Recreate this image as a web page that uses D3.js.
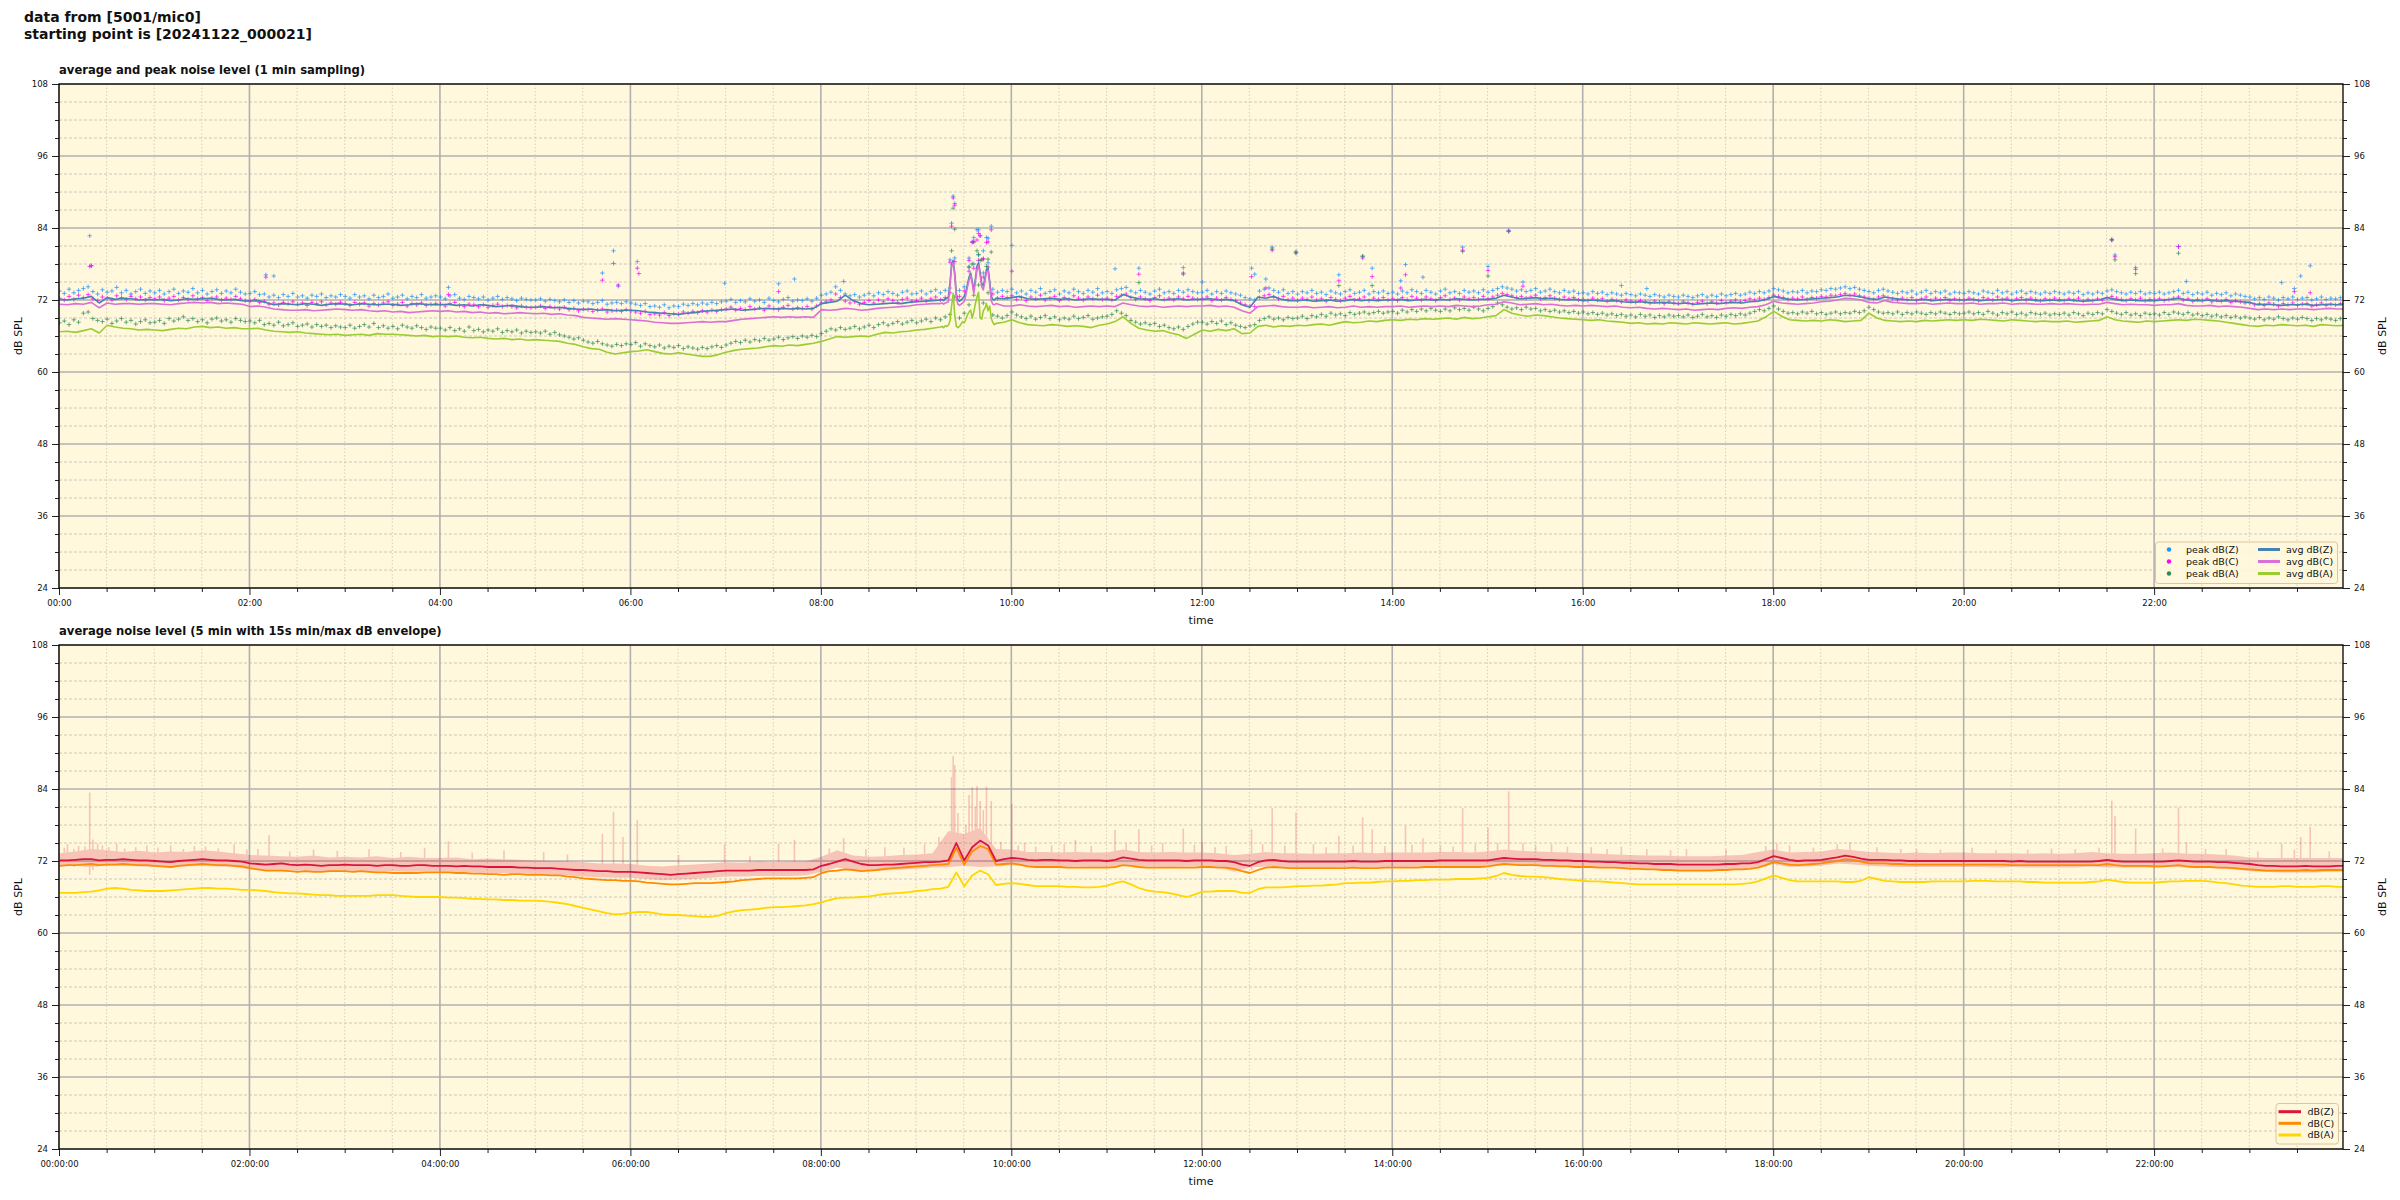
<!DOCTYPE html>
<html><head><meta charset="utf-8">
<script src="https://cdn.jsdelivr.net/npm/d3@7"></script>
<style>
body{margin:0;background:#fff}
svg{display:block}
text{font-family:"DejaVu Sans",sans-serif;fill:#111}
</style>
</head><body>
<svg id="chart" width="2400" height="1200"></svg>
<script>
// ===================== DATA =====================
const titleLines = ["data from [5001/mic0]", "starting point is [20241122_000021]"];
const topTitle = "average and peak noise level (1 min sampling)";
const bottomTitle = "average noise level (5 min with 15s min/max dB envelope)";
const yTicks = [24, 36, 48, 60, 72, 84, 96, 108];
const topLegendLabels = ["peak dB(Z)", "peak dB(C)", "peak dB(A)", "avg dB(Z)", "avg dB(C)", "avg dB(A)"];
const bottomLegendLabels = ["dB(Z)", "dB(C)", "dB(A)"];

// top panel: average levels, one value every 5 minutes from 00:00:21
const avgZ = [
72.1,72.0,72.2,72.3,72.6,71.5,72.4,72.1,72.3,72.2,72.0,72.1,
72.0,72.1,71.9,72.0,72.2,72.1,72.2,72.3,72.1,72.0,72.1,71.9,
71.8,71.9,71.6,71.2,71.4,71.3,71.2,71.4,71.3,71.1,71.3,71.4,
71.3,71.2,71.4,71.3,71.2,71.3,71.3,71.1,71.2,71.4,71.3,71.2,
71.2,71.3,71.1,71.2,71.0,71.2,71.1,70.9,71.0,71.1,70.9,70.8,
70.8,70.9,70.7,70.8,70.6,70.5,70.4,70.5,70.3,70.4,70.2,70.3,
70.3,70.2,70.0,69.9,69.8,69.7,69.6,69.8,69.9,70.1,70.2,70.3,
70.4,70.5,70.3,70.4,70.5,70.6,70.5,70.6,70.5,70.6,70.5,70.6,
71.4,71.6,71.8,72.8,71.9,71.4,71.2,71.3,71.4,71.5,71.4,71.6,
71.7,71.8,71.9,71.9,72.0,72.1,72.3,72.3,72.2,72.4,72.3,72.2,
72.4,72.6,72.2,72.1,72.2,72.3,72.1,72.2,72.0,72.1,72.2,72.1,
72.1,72.0,72.9,72.5,72.2,72.1,72.2,72.0,72.1,72.2,72.0,72.1,
72.1,72.2,72.0,72.1,71.9,71.2,70.8,72.5,72.3,72.6,72.1,71.9,
71.9,72.0,71.8,71.9,72.0,71.8,71.9,72.1,71.9,72.0,71.9,72.0,
72.0,72.1,71.9,72.0,72.1,72.0,72.1,72.0,72.2,72.1,72.0,72.1,
72.1,72.3,72.8,72.5,72.2,72.3,72.4,72.2,72.3,72.1,72.0,72.1,
71.9,72.0,71.9,71.8,71.9,71.7,71.6,71.7,71.6,71.5,71.6,71.5,
71.4,71.5,71.3,71.4,71.5,71.4,71.5,71.6,71.5,71.7,71.8,72.1,
72.6,72.3,72.1,72.0,72.1,72.2,72.3,72.4,72.5,72.8,72.7,72.5,
72.2,72.1,72.5,72.3,72.1,72.0,72.0,72.1,71.9,72.0,72.1,72.0,
72.0,72.1,71.9,72.0,72.0,72.1,71.9,72.0,72.1,71.9,71.9,72.0,
71.9,72.0,71.9,71.8,71.9,72.0,72.4,72.1,71.9,72.0,71.9,71.9,
71.9,72.0,72.1,72.3,72.0,71.9,71.9,72.0,71.8,71.9,71.8,71.7,
71.6,71.2,71.3,71.2,71.1,71.2,71.2,71.3,71.1,71.2,71.3,71.2,
71.3];
const avgC = [
71.3,71.2,71.4,71.3,71.6,70.7,71.5,71.3,71.4,71.4,71.3,71.4,
71.4,71.3,71.2,71.4,71.5,71.6,71.5,71.6,71.4,71.5,71.4,71.3,
70.9,71.0,70.8,70.5,70.4,70.3,70.3,70.4,70.2,70.3,70.4,70.5,
70.4,70.3,70.4,70.2,70.1,70.2,70.0,70.1,69.9,70.0,70.1,70.2,
70.1,70.2,70.0,70.1,69.9,70.0,69.8,69.9,69.7,69.8,69.9,69.8,
69.7,69.8,69.6,69.7,69.5,69.4,69.1,69.0,68.9,68.8,68.9,68.8,
68.7,68.6,68.5,68.3,68.2,68.1,68.1,68.2,68.3,68.4,68.3,68.4,
68.4,68.6,68.8,68.9,69.0,69.1,69.2,69.1,69.2,69.1,69.2,69.1,
70.4,70.3,70.4,70.6,70.5,70.3,70.4,70.6,70.7,70.8,70.9,71.0,
71.2,71.3,71.4,71.5,71.5,71.4,71.3,71.2,71.1,71.2,71.1,71.0,
71.0,71.2,71.0,70.9,71.0,71.1,70.9,71.0,70.8,70.9,71.0,70.9,
71.0,70.9,71.5,71.2,71.0,70.9,71.0,70.8,70.9,71.0,70.9,71.0,
71.0,71.1,70.9,71.0,70.8,70.2,69.8,70.9,71.0,71.1,70.9,70.8,
70.8,70.9,70.7,70.8,70.9,70.7,70.8,71.0,70.8,70.9,70.8,70.9,
70.9,71.0,70.8,70.9,71.0,70.9,71.0,70.9,71.1,71.0,70.9,71.0,
71.2,71.3,71.7,71.5,71.2,71.3,71.4,71.2,71.3,71.1,71.0,71.1,
71.0,71.1,71.0,70.9,71.0,70.8,70.7,70.8,70.6,70.5,70.6,70.5,
70.4,70.5,70.3,70.4,70.5,70.4,70.6,70.7,70.6,70.8,70.9,71.2,
71.8,71.5,71.4,71.3,71.4,71.5,71.7,71.8,72.0,72.3,72.2,72.0,
71.6,71.5,71.9,71.6,71.5,71.4,71.4,71.5,71.3,71.4,71.5,71.4,
71.4,71.5,71.3,71.4,71.4,71.5,71.3,71.4,71.4,71.3,71.3,71.4,
71.3,71.4,71.3,71.2,71.3,71.3,71.6,71.4,71.2,71.3,71.2,71.2,
71.1,71.2,71.2,71.4,71.1,71.0,71.0,71.1,70.9,71.0,70.9,70.8,
70.6,70.4,70.5,70.4,70.5,70.4,70.5,70.5,70.4,70.5,70.6,70.5,
70.5];
const avgA = [
66.7,66.8,66.6,66.9,67.2,66.5,67.8,67.5,67.3,67.2,67.0,67.1,
67.0,66.9,67.1,67.3,67.2,67.5,67.6,67.4,67.5,67.3,67.4,67.2,
67.2,67.3,67.0,66.8,66.7,66.6,66.7,66.5,66.4,66.3,66.2,66.3,
66.1,66.2,66.3,66.1,66.4,66.3,66.3,66.2,66.1,66.0,66.1,65.9,
66.0,65.9,66.0,65.8,65.7,65.8,65.6,65.5,65.6,65.4,65.5,65.3,
65.4,65.3,65.2,65.1,64.8,64.6,64.2,63.9,63.8,63.3,63.0,63.2,
63.4,63.5,63.7,63.4,63.1,63.0,63.2,63.0,62.8,62.6,62.6,62.9,
63.3,63.6,63.8,63.9,64.0,64.2,64.4,64.3,64.5,64.4,64.6,64.8,
65.1,65.5,65.9,65.8,65.9,66.0,65.9,66.3,66.6,66.5,66.7,66.8,
67.0,67.1,67.3,67.4,67.5,67.0,68.0,68.5,67.6,67.4,68.1,68.3,
68.7,68.2,67.9,67.8,67.7,67.9,67.8,67.6,67.7,67.6,67.4,67.8,
68.0,68.4,69.2,68.1,67.3,67.0,66.8,66.9,66.5,66.2,65.6,66.3,
67.0,66.8,67.1,66.9,67.2,66.4,66.5,67.6,67.8,67.5,67.7,67.6,
67.8,67.7,67.9,68.0,67.8,68.1,68.4,68.2,68.3,68.5,68.4,68.6,
68.7,68.6,68.8,68.7,68.9,68.8,68.9,69.0,68.8,69.1,68.9,69.0,
69.2,69.4,70.4,69.8,69.5,69.3,69.5,69.4,69.2,69.0,68.9,68.8,
68.7,68.6,68.7,68.5,68.4,68.3,68.1,68.2,68.0,68.1,68.0,68.2,
68.1,68.0,68.2,68.1,68.0,68.1,68.2,68.0,68.1,68.3,68.5,69.2,
70.1,69.3,68.7,68.6,68.5,68.6,68.5,68.7,68.6,68.4,68.5,68.6,
69.8,69.0,68.6,68.5,68.4,68.5,68.4,68.6,68.5,68.6,68.7,68.6,
68.7,68.6,68.8,68.7,68.6,68.5,68.7,68.6,68.5,68.4,68.5,68.4,
68.4,68.5,68.3,68.4,68.5,68.6,69.2,68.7,68.5,68.4,68.3,68.5,
68.4,68.5,68.6,68.7,68.6,68.8,68.7,68.6,68.5,68.3,68.1,67.9,
67.7,67.6,67.8,67.7,67.9,67.8,67.7,67.8,67.6,67.9,67.8,67.7,
67.8];

// top panel: 1-minute detail of the averages between 09:15 and 09:50
const detailStart = "09:15";
const avgZDetail = [72.0,72.1,71.9,72.2,72.3,72.5,74.8,77.9,78.6,76.5,73.0,72.0,71.8,72.0,72.3,72.6,73.4,74.6,75.8,76.5,75.2,73.6,75.5,77.6,78.2,76.6,74.8,74.3,75.6,77.1,77.3,75.2,72.6,72.1,72.0,72.3];
const avgCDetail = [71.4,71.5,71.3,71.5,71.6,71.7,74.2,77.5,78.2,76.0,72.4,71.3,71.1,71.3,71.5,71.8,72.8,74.1,75.3,76.1,74.8,73.1,75.0,77.1,77.8,76.1,74.2,73.7,75.1,76.7,76.9,74.7,71.9,71.3,71.2,71.4];
const avgADetail = [67.5,67.6,67.4,67.7,67.6,67.8,68.5,71.0,73.1,69.5,67.6,67.4,67.6,68.0,68.4,68.2,68.8,69.5,70.0,70.3,69.0,70.0,71.4,72.5,73.3,69.0,68.8,70.2,70.6,71.4,70.2,71.0,69.0,68.2,67.9,68.1];

// top panel: peak levels, one value every 3 minutes from 00:00:21
const peakZ = [
73.5,73.1,73.8,73.2,73.6,73.9,74.2,73.4,73.0,73.7,73.3,73.5,74.1,73.2,73.6,73.0,73.4,73.8,73.1,73.5,
73.2,73.6,73.0,73.4,73.8,73.1,73.5,73.3,73.9,73.2,73.6,73.0,73.4,73.7,73.1,73.5,73.2,73.8,73.3,73.0,
73.1,73.4,72.9,73.0,72.5,72.8,72.4,72.9,72.6,73.1,72.5,72.7,72.3,72.8,72.6,73.0,72.4,72.7,72.5,72.9,
72.6,72.3,72.9,72.5,72.7,72.2,72.8,72.4,72.6,73.0,72.3,72.5,72.8,72.2,72.6,72.4,72.9,72.3,72.5,72.7,
72.5,72.2,72.7,72.9,72.3,72.1,72.6,72.4,72.2,72.5,72.0,72.3,72.6,72.1,72.4,72.2,71.9,72.3,72.1,72.0,
72.0,72.2,71.8,72.1,71.9,71.7,72.0,71.6,71.9,71.5,71.8,71.7,71.4,71.6,71.9,71.3,71.5,71.6,71.4,71.7,
71.5,71.3,71.1,71.4,70.9,71.0,70.8,71.2,70.7,71.0,70.9,71.3,71.1,71.4,71.2,71.5,71.3,71.6,71.4,71.7,
71.8,72.1,71.6,71.9,71.7,72.2,71.8,72.0,71.6,72.3,71.9,71.7,72.1,72.4,71.8,72.0,71.9,72.2,71.8,72.3,
72.8,73.0,73.3,74.2,73.6,73.0,72.7,72.9,72.5,72.8,73.1,72.7,73.2,72.9,73.4,73.1,72.8,73.3,73.5,73.0,
73.1,73.5,73.0,73.4,73.7,73.2,73.6,74.0,79.0,73.6,74.2,77.5,78.0,79.5,76.5,78.2,73.8,73.3,73.6,73.4,
73.8,73.2,73.5,73.0,73.6,73.3,73.9,73.1,73.4,73.7,73.0,73.5,73.2,73.8,73.4,73.1,73.6,73.3,73.9,73.2,
73.4,73.1,73.7,73.9,74.1,73.5,73.2,73.6,73.3,73.0,73.5,73.8,73.2,73.4,73.1,73.6,73.3,73.7,73.4,73.2,
73.3,73.6,73.0,73.4,73.1,73.5,73.2,73.0,72.8,72.4,72.2,72.0,73.5,73.8,74.0,73.6,73.3,73.7,73.1,73.4,
73.0,73.4,73.2,73.6,73.1,73.3,72.9,73.5,73.2,73.0,73.4,73.7,73.1,73.3,73.6,73.0,73.4,73.2,73.5,73.1,
73.3,73.0,73.5,73.2,73.7,73.4,73.1,73.6,73.3,73.0,73.5,73.8,73.2,73.4,73.1,73.6,73.3,73.5,73.2,73.7,
73.3,73.6,73.9,74.2,74.0,73.8,73.5,73.7,73.4,73.6,73.9,73.3,73.5,73.8,73.4,73.2,73.6,73.3,73.5,73.1,
73.2,73.0,73.4,73.1,73.3,72.9,73.2,73.0,72.8,73.1,72.9,72.7,73.0,72.8,72.6,72.9,72.7,72.5,72.8,72.6,
72.5,72.8,72.6,72.4,72.7,72.9,72.5,72.8,72.6,73.0,72.7,72.9,73.1,72.8,73.0,73.3,73.1,73.4,73.2,73.5,
73.9,73.7,73.5,73.2,73.4,73.3,73.6,73.2,73.5,73.4,73.7,73.6,73.9,73.8,74.0,74.2,73.9,74.1,73.8,73.6,
73.4,73.2,73.6,73.8,73.5,73.3,73.1,73.4,73.2,73.5,73.0,73.3,73.6,73.1,73.4,73.2,73.5,73.0,73.3,73.2,
73.1,73.4,73.2,73.0,73.5,73.3,73.1,73.6,73.2,73.4,73.0,73.3,73.5,73.1,73.4,73.2,73.0,73.3,73.1,73.4,
73.2,73.0,73.3,73.1,73.4,72.9,73.2,73.0,73.3,73.1,73.5,73.7,73.4,73.2,73.0,73.3,73.1,73.4,73.0,73.2,
73.1,73.3,73.0,73.2,73.4,73.6,73.1,73.3,72.9,73.2,73.0,73.3,72.8,73.1,72.9,73.2,72.7,73.0,72.8,72.6,
72.5,72.2,72.4,72.1,72.5,72.3,72.0,72.4,72.2,72.5,72.1,72.3,72.4,72.0,72.2,72.5,72.1,72.3,72.2,72.4];
const peakC = [
72.3,72.0,72.6,72.1,72.8,72.4,72.9,72.2,71.9,72.5,72.3,72.0,72.7,72.4,72.1,72.6,72.2,72.5,72.0,72.4,
72.2,72.5,71.9,72.3,72.6,72.0,72.4,72.1,72.7,72.2,72.4,71.9,72.3,72.5,72.0,72.3,72.1,72.6,72.2,71.9,
71.9,72.1,71.6,71.8,71.3,71.5,71.2,71.6,71.4,71.7,71.3,71.5,71.1,71.6,71.4,71.7,71.2,71.5,71.3,71.6,
71.4,71.1,71.6,71.3,71.5,71.0,71.4,71.2,71.5,71.7,71.1,71.3,71.6,71.0,71.4,71.2,71.5,71.1,71.3,71.4,
71.3,71.0,71.4,71.6,71.1,70.9,71.3,71.2,70.9,71.2,70.8,71.1,71.3,70.9,71.1,70.9,70.7,71.0,70.8,70.7,
70.8,71.0,70.6,70.9,70.7,70.5,70.8,70.4,70.6,70.2,70.5,70.4,70.1,70.3,70.5,70.0,70.2,70.3,70.1,70.4,
70.2,70.0,69.8,70.1,69.6,69.7,69.5,69.9,69.4,69.7,69.6,70.0,69.8,70.1,69.9,70.2,70.0,70.3,70.1,70.4,
70.5,70.8,70.3,70.6,70.4,70.9,70.5,70.7,70.3,71.0,70.6,70.4,70.8,71.1,70.5,70.7,70.6,70.9,70.5,71.0,
71.5,71.7,72.0,73.0,72.4,71.8,71.5,71.7,71.3,71.6,71.9,71.5,72.0,71.7,72.2,71.9,71.6,72.1,72.3,71.8,
71.9,72.3,71.8,72.2,72.5,72.0,72.4,73.2,78.4,72.6,73.5,76.8,77.3,78.6,75.8,77.5,73.0,72.3,72.6,72.4,
72.7,72.1,72.4,71.9,72.5,72.2,72.8,72.0,72.3,72.6,71.9,72.4,72.1,72.7,72.3,72.0,72.5,72.2,72.8,72.1,
72.3,72.0,72.6,72.8,73.0,72.4,72.1,72.5,72.2,71.9,72.4,72.7,72.1,72.3,72.0,72.5,72.2,72.6,72.3,72.1,
72.2,72.5,71.9,72.3,72.0,72.4,72.1,71.9,71.5,71.2,71.0,70.9,72.4,72.7,72.9,72.5,72.2,72.6,72.0,72.3,
71.9,72.3,72.1,72.5,72.0,72.2,71.8,72.4,72.1,71.9,72.3,72.6,72.0,72.2,72.5,71.9,72.3,72.1,72.4,72.0,
72.2,71.9,72.4,72.1,72.6,72.3,72.0,72.5,72.2,71.9,72.4,72.7,72.1,72.3,72.0,72.5,72.2,72.4,72.1,72.6,
72.2,72.5,72.8,73.1,72.9,72.7,72.4,72.6,72.3,72.5,72.8,72.2,72.4,72.7,72.3,72.1,72.5,72.2,72.4,72.0,
72.1,71.9,72.3,72.0,72.2,71.8,72.1,71.9,71.7,72.0,71.8,71.6,71.9,71.7,71.5,71.8,71.6,71.4,71.7,71.5,
71.4,71.7,71.5,71.3,71.6,71.8,71.4,71.7,71.5,71.9,71.6,71.8,72.0,71.7,71.9,72.2,72.0,72.3,72.1,72.4,
72.8,72.6,72.4,72.1,72.3,72.2,72.5,72.1,72.4,72.3,72.6,72.5,72.8,72.7,72.9,73.1,72.8,73.0,72.7,72.5,
72.3,72.1,72.5,72.7,72.4,72.2,72.0,72.3,72.1,72.4,71.9,72.2,72.5,72.0,72.3,72.1,72.4,71.9,72.2,72.1,
72.0,72.3,72.1,71.9,72.4,72.2,72.0,72.5,72.1,72.3,71.9,72.2,72.4,72.0,72.3,72.1,71.9,72.2,72.0,72.3,
72.1,71.9,72.2,72.0,72.3,71.8,72.1,71.9,72.2,72.0,72.4,72.6,72.3,72.1,71.9,72.2,72.0,72.3,71.9,72.1,
72.0,72.2,71.9,72.1,72.3,72.5,72.0,72.2,71.8,72.1,71.9,72.2,71.7,72.0,71.8,72.1,71.6,71.9,71.7,71.5,
71.5,71.2,71.4,71.1,71.5,71.3,71.0,71.4,71.2,71.5,71.1,71.3,71.4,71.0,71.2,71.5,71.1,71.3,71.2,71.4];
const peakA = [
68.2,68.5,67.9,68.7,68.3,69.8,70.0,68.9,68.6,68.4,68.8,68.1,68.5,68.9,68.3,68.6,68.0,68.4,68.7,68.2,
68.3,68.6,68.1,68.9,68.5,68.8,69.2,68.6,68.9,68.4,68.7,68.2,68.8,69.0,68.5,68.7,68.3,68.9,68.6,68.4,
68.5,68.2,68.6,67.9,68.1,67.8,68.3,67.7,67.9,68.2,67.6,67.8,68.0,67.5,67.9,67.6,67.8,67.4,67.7,67.5,
67.4,67.8,67.3,67.6,67.9,67.5,68.1,67.4,67.7,67.3,67.6,67.2,67.8,67.5,67.3,67.7,67.4,67.1,67.5,67.3,
67.3,67.0,67.4,66.9,67.2,66.8,67.5,66.9,67.1,66.7,67.0,66.8,67.2,66.6,66.9,66.7,67.0,66.5,66.8,66.6,
66.7,66.5,66.8,66.3,66.6,66.2,66.0,65.8,65.5,65.7,65.3,65.0,64.8,65.1,64.7,64.5,64.3,64.6,64.4,64.7,
64.6,64.9,64.3,64.7,64.4,64.2,64.5,64.0,64.3,64.1,64.4,63.9,64.2,64.0,63.8,64.1,63.9,64.2,64.4,64.1,
64.5,64.8,65.1,64.9,65.3,65.0,65.4,65.2,65.6,65.3,65.5,65.8,65.4,65.7,65.9,65.6,66.0,65.8,66.1,65.9,
66.4,66.8,67.2,67.0,67.4,67.1,67.3,67.6,67.2,67.5,67.8,67.4,67.9,68.2,67.8,68.1,68.4,68.0,68.3,68.6,
68.2,68.5,68.8,68.4,69.0,68.7,69.2,69.6,72.5,69.0,69.8,71.2,72.8,74.5,71.5,73.2,69.5,69.3,69.0,69.4,
70.0,69.5,69.2,68.9,69.3,68.8,69.1,69.4,68.9,69.2,68.7,69.0,68.8,69.3,68.9,69.1,69.4,68.8,69.0,69.2,
69.3,69.6,70.2,69.8,69.4,68.6,68.3,68.0,68.2,67.9,68.1,67.6,67.8,67.4,67.2,67.5,67.1,67.6,68.0,68.3,
68.3,68.0,68.4,68.1,68.5,67.9,68.2,67.8,67.6,67.4,67.7,67.9,68.6,68.9,69.2,68.8,69.0,68.7,69.1,68.9,
69.0,69.3,68.9,69.4,69.2,69.6,69.3,69.8,69.5,69.7,69.4,69.9,69.6,69.8,70.0,69.7,69.9,70.1,69.8,70.0,
70.1,69.8,70.3,70.0,70.4,70.1,70.5,70.2,70.6,70.3,70.1,70.5,70.2,70.7,70.4,70.6,70.3,70.8,70.5,70.2,
70.6,70.9,71.5,71.2,70.8,70.5,70.7,70.4,70.8,70.5,70.6,70.2,70.4,70.1,70.3,70.0,70.2,69.9,70.1,69.8,
70.0,69.7,69.9,69.6,69.8,69.5,69.7,69.4,69.6,69.3,69.5,69.2,69.6,69.3,69.5,69.1,69.4,69.2,69.5,69.3,
69.4,69.2,69.5,69.1,69.3,69.6,69.2,69.4,69.1,69.5,69.3,69.6,69.4,69.7,69.5,69.8,70.1,70.4,70.2,70.6,
71.0,70.5,70.1,69.8,69.9,69.7,70.0,69.8,70.1,69.7,69.9,69.6,69.8,70.0,69.7,69.9,69.8,70.1,69.9,70.2,
70.8,70.4,70.0,69.8,69.9,69.7,70.0,69.6,69.9,69.7,70.0,69.8,69.6,69.9,69.7,70.0,69.8,69.6,69.9,69.7,
69.8,70.0,69.7,69.9,69.6,70.1,69.8,69.5,69.9,69.7,70.0,69.6,69.8,69.5,69.9,69.7,69.6,69.8,69.5,69.7,
69.6,69.8,69.5,69.9,69.7,69.4,69.8,69.6,69.9,69.7,70.4,70.1,69.8,69.6,69.9,69.5,69.7,69.4,69.8,69.6,
69.7,69.5,69.9,69.6,70.0,69.8,69.6,69.9,69.5,69.7,69.4,69.6,69.3,69.5,69.2,69.4,69.1,69.3,69.0,69.2,
69.0,68.8,69.1,68.7,69.0,68.8,69.2,68.9,68.7,69.0,68.8,69.1,68.9,68.6,68.9,68.7,69.0,68.8,68.6,68.9];

// isolated peak readings [time, dB]
const peakZOutliers = [["00:19",82.7],["00:20",77.7],["02:10",76.2],["02:15",76.0],["04:05",74.1],["05:42",76.5],["05:49",80.2],["05:52",74.3],["06:04",78.4],["06:59",74.8],["07:33",74.7],["07:43",75.5],["08:14",75.1],
["09:21",78.7],["09:22",84.8],["09:23",89.3],["09:24",88.1],["09:33",79.0],["09:35",81.7],["09:36",82.4],["09:38",83.7],["09:39",83.7],["09:40",82.7],["09:42",80.2],["09:44",82.4],["09:45",82.3],["09:47",84.3],["10:00",81.1],
["11:05",77.2],["11:20",77.3],["11:48",77.4],["12:00",75.0],["12:31",77.3],["12:33",76.3],["12:40",75.5],["12:44",80.8],["12:59",80.1],["13:26",76.2],["13:41",79.3],["13:47",77.3],["14:05",75.2],["14:08",77.9],["14:19",75.8],
["14:44",80.8],["15:00",77.6],["15:13",83.6],["15:22",75.0],["16:24",74.4],["16:40",73.9],["21:33",82.1],["21:35",79.5],["21:48",77.4],["22:15",80.9],["22:20",75.1],["23:20",74.9],["23:28",73.9],["23:32",76.0],["23:38",77.7]];
const peakCOutliers = [["00:19",77.6],["00:20",77.7],["02:10",75.8],["04:05",72.9],["05:42",75.3],["05:49",78.1],["05:52",74.5],["06:04",77.3],["06:05",76.4],["07:33",73.4],
["09:21",78.3],["09:22",84.3],["09:23",89.0],["09:24",87.8],["09:33",78.6],["09:35",81.6],["09:36",81.7],["09:38",82.0],["09:39",83.1],["09:40",82.7],["09:41",78.7],["09:42",78.9],["09:44",81.6],["09:45",81.7],["09:47",83.7],["10:00",76.8],
["11:20",76.3],["11:48",76.5],["12:31",75.9],["12:40",74.0],["12:44",80.3],["12:59",79.8],["13:26",75.2],["13:41",79.0],["13:47",75.9],["14:05",74.0],["14:08",76.2],["14:44",80.3],["15:00",76.9],["15:13",83.5],["15:22",74.3],
["21:33",82.0],["21:35",79.2],["21:48",77.1],["22:15",80.9],["23:28",73.4],["23:38",73.2]];
const peakAOutliers = [["09:22",80.2],["09:23",87.3],["09:24",83.8],["09:33",77.5],["09:35",78.0],["09:36",81.7],["09:38",80.2],["09:39",79.6],["09:40",78.6],["09:42",78.8],["09:44",77.6],["09:45",78.8],["09:47",80.0],
["11:20",74.9],["11:48",76.3],["12:44",80.5],["12:59",79.9],["13:26",74.4],["13:41",79.3],["13:47",74.4],["14:44",80.1],["15:00",76.0],["15:13",83.4],["21:33",82.0],["21:35",78.7],["21:48",76.4],["22:15",79.8]];

// bottom panel: 5-minute averages from 00:00:21
const avg5Z = [
72.1,72.1,72.2,72.3,72.3,72.1,72.2,72.2,72.3,72.2,72.1,72.1,
72.0,71.9,71.8,72.0,72.1,72.2,72.3,72.2,72.1,72.1,72.0,71.9,
71.6,71.5,71.4,71.5,71.6,71.4,71.3,71.4,71.3,71.2,71.3,71.3,
71.4,71.3,71.3,71.3,71.2,71.3,71.3,71.2,71.2,71.3,71.3,71.2,
71.2,71.2,71.1,71.2,71.1,71.1,71.0,71.0,71.0,71.0,70.9,70.9,
70.8,70.8,70.8,70.7,70.6,70.5,70.5,70.4,70.3,70.3,70.2,70.2,
70.2,70.1,70.0,69.9,69.8,69.7,69.8,69.9,70.0,70.1,70.2,70.3,
70.4,70.4,70.4,70.4,70.5,70.5,70.5,70.5,70.5,70.5,70.5,70.6,
71.2,71.5,71.9,72.3,71.9,71.5,71.3,71.3,71.4,71.4,71.5,71.6,
71.7,71.8,71.8,71.9,72.1,75.0,72.1,74.3,75.4,74.6,72.0,72.3,
72.5,72.4,72.2,72.1,72.2,72.2,72.1,72.1,72.0,72.1,72.1,72.1,
72.0,72.2,72.6,72.4,72.2,72.1,72.1,72.1,72.1,72.1,72.0,72.1,
72.1,72.1,72.0,72.0,71.8,71.4,71.2,71.8,72.1,72.2,72.0,71.9,
71.9,71.9,71.9,71.9,71.9,71.9,71.9,72.0,71.9,71.9,71.9,72.0,
72.0,72.0,72.0,72.0,72.0,72.0,72.1,72.1,72.1,72.1,72.1,72.1,
72.1,72.3,72.5,72.4,72.3,72.3,72.3,72.2,72.2,72.1,72.1,72.0,
72.0,71.9,71.9,71.8,71.8,71.7,71.7,71.6,71.6,71.5,71.5,71.5,
71.4,71.4,71.4,71.4,71.4,71.4,71.5,71.5,71.6,71.6,71.8,72.3,
72.8,72.5,72.2,72.0,72.1,72.1,72.2,72.4,72.6,72.9,72.7,72.4,
72.2,72.2,72.2,72.1,72.1,72.0,72.0,72.0,72.0,72.0,72.0,72.0,
72.0,72.0,72.0,72.0,72.0,72.0,71.9,72.0,71.9,71.9,71.9,71.9,
71.9,71.9,71.9,71.9,71.9,72.0,72.2,72.0,71.9,71.9,71.9,71.9,
71.9,71.9,72.0,72.1,72.0,71.9,71.9,71.9,71.8,71.8,71.7,71.6,
71.5,71.3,71.2,71.2,71.1,71.1,71.1,71.2,71.1,71.1,71.1,71.2,
71.2];
const avg5C = [
71.2,71.3,71.3,71.4,71.5,71.3,71.4,71.4,71.5,71.4,71.3,71.3,
71.2,71.1,71.0,71.2,71.3,71.4,71.5,71.4,71.3,71.3,71.2,71.1,
70.8,70.6,70.4,70.4,70.4,70.3,70.2,70.3,70.2,70.2,70.3,70.3,
70.3,70.2,70.3,70.2,70.1,70.1,70.0,70.0,70.0,70.0,70.1,70.1,
70.1,70.1,70.0,70.0,69.9,69.9,69.8,69.8,69.7,69.8,69.8,69.7,
69.7,69.7,69.6,69.6,69.4,69.3,69.1,69.0,68.9,68.8,68.8,68.7,
68.7,68.6,68.4,68.3,68.2,68.1,68.1,68.2,68.3,68.3,68.3,68.4,
68.5,68.6,68.8,68.9,69.0,69.1,69.1,69.1,69.1,69.1,69.2,69.3,
70.0,70.3,70.4,70.6,70.5,70.3,70.4,70.5,70.7,70.8,70.9,71.0,
71.1,71.2,71.3,71.4,71.5,74.2,71.4,73.6,74.5,74.0,71.4,71.5,
71.6,71.4,71.1,71.0,71.0,71.0,71.0,70.9,70.9,70.9,70.9,70.9,
70.9,71.0,71.3,71.2,71.0,70.9,70.9,70.9,70.9,70.9,70.9,70.9,
71.0,71.0,70.9,70.9,70.7,70.3,70.0,70.5,70.9,71.0,70.9,70.8,
70.8,70.8,70.8,70.8,70.8,70.8,70.8,70.9,70.8,70.8,70.8,70.9,
70.9,70.9,70.9,70.9,71.0,71.0,71.0,71.0,71.0,71.0,71.0,71.0,
71.1,71.3,71.5,71.4,71.3,71.3,71.3,71.2,71.2,71.1,71.1,71.0,
71.0,71.0,70.9,70.9,70.9,70.8,70.7,70.7,70.6,70.6,70.5,70.5,
70.4,70.4,70.4,70.4,70.4,70.5,70.5,70.6,70.6,70.7,70.9,71.3,
71.8,71.6,71.4,71.3,71.4,71.5,71.6,71.8,72.0,72.3,72.2,71.9,
71.6,71.6,71.6,71.5,71.5,71.4,71.4,71.4,71.4,71.4,71.4,71.4,
71.4,71.4,71.4,71.4,71.4,71.4,71.3,71.3,71.3,71.3,71.3,71.3,
71.3,71.3,71.3,71.3,71.3,71.3,71.5,71.3,71.2,71.2,71.2,71.2,
71.1,71.1,71.2,71.3,71.1,71.0,71.0,71.0,70.9,70.9,70.8,70.7,
70.6,70.5,70.4,70.4,70.4,70.4,70.4,70.5,70.4,70.5,70.5,70.5,
70.5];
const avg5A = [
66.7,66.7,66.7,66.8,66.9,67.1,67.4,67.5,67.4,67.2,67.1,67.0,
67.0,67.0,67.1,67.2,67.3,67.4,67.5,67.5,67.4,67.4,67.3,67.2,
67.2,67.1,67.0,66.8,66.7,66.6,66.6,66.5,66.4,66.3,66.3,66.2,
66.2,66.2,66.2,66.2,66.3,66.3,66.3,66.2,66.1,66.0,66.0,66.0,
66.0,65.9,65.9,65.8,65.7,65.7,65.6,65.6,65.5,65.5,65.4,65.4,
65.4,65.3,65.2,65.0,64.8,64.5,64.2,63.9,63.6,63.3,63.1,63.2,
63.4,63.5,63.5,63.3,63.1,63.0,63.0,62.9,62.8,62.7,62.7,62.9,
63.3,63.6,63.8,63.9,64.0,64.2,64.3,64.3,64.4,64.5,64.6,64.8,
65.1,65.5,65.8,65.9,65.9,66.0,66.1,66.3,66.5,66.6,66.7,66.8,
67.0,67.1,67.3,67.4,67.7,70.1,67.8,69.6,70.4,69.8,68.0,68.2,
68.3,68.2,68.0,67.8,67.8,67.8,67.8,67.7,67.7,67.6,67.6,67.7,
67.9,68.3,68.6,68.1,67.5,67.1,66.9,66.8,66.6,66.3,66.0,66.4,
66.9,66.9,67.0,67.0,67.0,66.7,66.7,67.3,67.6,67.6,67.6,67.7,
67.8,67.8,67.9,67.9,68.0,68.1,68.3,68.3,68.4,68.4,68.5,68.6,
68.6,68.7,68.7,68.8,68.8,68.9,68.9,68.9,69.0,69.0,69.0,69.1,
69.2,69.5,70.0,69.7,69.5,69.4,69.4,69.3,69.2,69.0,68.9,68.8,
68.7,68.6,68.6,68.5,68.4,68.3,68.2,68.1,68.1,68.1,68.1,68.1,
68.1,68.1,68.1,68.1,68.1,68.1,68.1,68.1,68.2,68.3,68.6,69.1,
69.6,69.2,68.8,68.6,68.6,68.6,68.6,68.6,68.6,68.5,68.5,68.7,
69.3,69.0,68.7,68.6,68.5,68.5,68.5,68.5,68.6,68.6,68.6,68.6,
68.6,68.7,68.7,68.7,68.6,68.6,68.6,68.6,68.5,68.5,68.4,68.4,
68.4,68.4,68.4,68.4,68.5,68.6,68.9,68.7,68.5,68.4,68.4,68.4,
68.4,68.5,68.6,68.6,68.7,68.7,68.7,68.6,68.4,68.3,68.1,67.9,
67.8,67.7,67.7,67.7,67.8,67.8,67.7,67.7,67.7,67.8,67.8,67.7,
67.7];

// bottom panel: 15 s min/max envelope of dB(Z), summarised every 10 minutes
const envMax = [
73.3,73.6,74.0,73.8,73.5,73.7, 73.4,73.6,73.5,73.8,73.6,73.3, 73.0,72.9,72.8,72.7,72.9,72.6,
72.7,72.6,72.8,72.5,72.7,72.5, 72.5,72.6,72.3,72.4,72.3,72.2, 72.1,72.0,71.9,71.8,71.6,71.6,
71.5,71.2,71.1,71.3,71.4,71.6, 71.8,71.7,71.9,71.8,71.9,71.9, 72.7,73.8,72.9,72.7,72.8,73.0,
73.1,73.3,77.0,76.5,77.5,74.0, 73.9,73.5,73.5,73.4,73.5,73.4, 73.4,73.9,73.5,73.4,73.5,73.4,
73.4,73.3,73.0,73.2,73.5,73.3, 73.3,73.2,73.3,73.3,73.4,73.3, 73.4,73.4,73.4,73.5,73.5,73.4,
73.6,73.9,73.7,73.6,73.5,73.4, 73.3,73.2,73.1,73.0,72.9,72.9, 72.8,72.8,72.8,72.9,73.0,73.5,
73.9,73.4,73.5,73.6,74.0,73.8, 73.5,73.4,73.3,73.4,73.3,73.4, 73.4,73.3,73.3,73.3,73.2,73.3,
73.2,73.3,73.5,73.3,73.2,73.2, 73.3,73.4,73.2,73.2,73.1,72.9, 72.6,72.5,72.5,72.5,72.5,72.5,
72.5];
const envMin = [
71.1,71.2,71.0,71.3,71.2,71.1, 71.0,70.9,71.1,71.2,71.1,71.0, 70.6,70.5,70.4,70.4,70.3,70.3,
70.4,70.3,70.2,70.3,70.2,70.3, 70.2,70.2,70.1,70.0,70.0,69.9, 69.8,69.7,69.6,69.4,69.3,69.2,
69.2,69.0,68.8,68.9,69.0,69.2, 69.4,69.4,69.5,69.5,69.5,69.6, 70.2,70.9,70.4,70.3,70.4,70.6,
70.7,70.9,71.0,71.2,71.0,71.1, 71.3,71.1,71.1,71.0,71.1,71.0, 71.0,71.4,71.1,71.1,71.0,71.1,
71.1,71.0,70.2,70.9,71.1,70.9, 70.9,70.9,70.9,71.0,70.9,71.0, 71.0,71.0,71.1,71.1,71.1,71.1,
71.2,71.4,71.3,71.2,71.2,71.0, 71.0,70.9,70.8,70.7,70.6,70.5, 70.4,70.4,70.4,70.5,70.6,71.0,
71.5,71.0,71.1,71.2,71.6,71.4, 71.2,71.1,71.0,71.0,71.0,71.0, 71.0,71.0,70.9,71.0,70.9,70.9,
70.9,70.9,71.1,70.9,70.9,70.9, 70.9,71.0,70.9,70.9,70.8,70.6, 70.3,70.2,70.1,70.1,70.1,70.2,
70.2];
// short 15 s excursions of the envelope [time, min dB, max dB]
const envSpikes = [
["00:03",71.5,74.2],["00:05",72.0,74.8],["00:09",71.0,74.0],["00:12",72.0,74.5],["00:16",71.0,74.4],["00:19",69.7,83.4],["00:21",70.5,75.6],["00:24",71.0,74.9],["00:27",72.0,74.6],
["00:31",71.2,74.3],["00:36",72.0,74.9],["00:41",71.4,74.1],["00:48",72.0,74.3],["00:55",71.3,74.6],["01:02",71.3,74.2],["01:10",72.0,74.6],["01:18",71.2,74.0],["01:25",71.4,74.5],
["01:32",72.0,74.4],["01:40",71.3,74.1],["01:50",72.0,74.8],["01:58",71.0,73.9],["02:05",70.8,74.0],["02:12",71.5,76.3],["02:25",70.6,73.6],["02:40",71.5,73.9],["02:55",70.5,73.7],
["03:15",71.5,74.0],["03:35",70.5,73.5],["03:50",71.0,74.2],["04:05",71.0,75.3],["04:20",70.4,73.4],["04:40",71.0,73.8],["05:05",70.5,73.5],["05:20",70.0,73.1],["05:42",70.5,76.5],
["05:49",70.5,80.2],["05:55",70.0,76.0],["06:04",70.0,78.8],["06:30",70.0,73.0],["06:59",70.0,74.8],["07:15",69.6,72.8],["07:33",70.0,74.9],["07:43",70.0,75.5],["08:05",71.0,74.1],
["08:14",71.5,75.8],["08:28",71.0,74.0],["08:40",71.5,74.3],["08:52",71.0,74.2],["09:05",72.0,74.8],["09:14",72.0,76.0],["09:22",72.0,86.0],["09:23",72.0,89.5],["09:24",72.0,88.0],
["09:26",72.0,80.0],["09:31",72.0,78.0],["09:33",72.0,83.0],["09:35",72.0,84.3],["09:37",72.0,81.0],["09:38",72.0,84.5],["09:40",72.0,82.0],["09:42",72.0,80.5],["09:44",72.0,84.4],
["09:47",72.0,82.0],["09:53",71.5,75.2],["10:00",71.5,81.5],["10:04",71.5,74.6],["10:08",71.5,75.0],["10:15",71.5,74.4],["10:25",71.5,74.6],["10:33",71.5,74.8],["10:40",71.5,75.5],
["10:50",71.5,74.5],["11:05",71.5,77.2],["11:12",71.5,74.9],["11:20",71.5,77.3],["11:28",71.5,74.6],["11:35",71.5,75.0],["11:48",71.5,77.4],["11:55",71.5,74.7],["12:00",71.5,75.2],
["12:08",71.5,74.3],["12:15",71.5,74.5],["12:31",70.5,77.3],["12:38",71.0,74.8],["12:44",71.5,80.8],["12:52",71.5,74.6],["12:59",71.5,80.1],["13:10",71.5,74.8],["13:18",71.5,74.3],
["13:26",71.5,76.2],["13:35",71.5,74.6],["13:41",71.5,79.3],["13:47",71.5,77.3],["13:55",71.5,74.5],["14:08",71.5,77.9],["14:12",71.5,74.7],["14:19",71.5,75.8],["14:30",71.5,74.6],
["14:38",71.5,74.4],["14:44",71.5,80.8],["14:52",71.5,74.8],["15:00",71.5,77.6],["15:06",71.5,75.0],["15:13",71.5,83.6],["15:22",71.5,75.0],["15:30",71.5,74.6],["15:40",71.5,74.8],
["15:50",71.5,74.4],["16:05",71.5,74.3],["16:15",71.2,74.0],["16:24",71.5,74.4],["16:40",71.0,74.0],["16:55",71.0,73.8],["17:05",71.0,74.0],["17:30",71.0,73.9],["17:55",71.0,74.5],
["18:02",71.2,74.9],["18:10",71.5,74.6],["18:25",71.3,74.2],["18:40",71.5,74.8],["18:48",71.5,75.1],["19:05",71.5,74.3],["19:20",71.3,74.0],["19:30",71.5,74.0],["19:45",71.3,73.9],
["20:05",71.5,74.2],["20:20",71.3,73.8],["20:40",71.5,73.9],["20:55",71.3,74.1],["21:10",71.5,74.0],["21:25",71.3,74.2],["21:33",71.5,82.1],["21:35",71.5,79.5],["21:48",71.5,77.4],
["22:05",71.3,74.1],["22:15",71.5,80.9],["22:20",71.5,75.1],["22:32",71.2,74.0],["22:45",71.0,74.0],["23:05",70.6,73.6],["23:20",70.5,74.9],["23:28",70.5,73.9],["23:32",70.5,76.0],
["23:38",70.5,77.7],["23:50",70.5,73.6]];

// ===================== BUILD =====================
const DAY = [2024, 10, 22];
const T0 = Date.UTC(DAY[0], DAY[1], DAY[2], 0, 0, 21);
const tAt = m => new Date(T0 + m * 60000);
const hm = s => { const [h, m] = s.split(":").map(Number); return tAt(h * 60 + m); };
const regular = (vals, step) => vals.map((v, i) => ({ t: tAt(i * step), v }));
const pairs = arr => arr.map(([s, v]) => ({ t: hm(s), v }));
const dStart = hm(detailStart);
function withDetail(vals, detail) {
  const dEnd = new Date(+dStart + (detail.length - 1) * 60000);
  const base = regular(vals, 5).filter(d => d.t < dStart || d.t > dEnd);
  const det = detail.map((v, i) => ({ t: new Date(+dStart + i * 60000), v }));
  return base.concat(det).sort((a, b) => a.t - b.t);
}

const W = 2400, L = 59, R = 2343;
const panels = [{ top: 84, bottom: 588 }, { top: 645, bottom: 1149 }];
const x = d3.scaleUtc()
  .domain([new Date(Date.UTC(DAY[0], DAY[1], DAY[2], 0, 0, 0)), new Date(Date.UTC(DAY[0], DAY[1], DAY[2], 23, 59, 0))])
  .range([L, R]);
const majorX = d3.utcHour.every(2).range(x.domain()[0], x.domain()[1]);
const minorX = d3.utcMinute.every(30).range(x.domain()[0], x.domain()[1]).filter(d => d.getUTCMinutes() !== 0 || d.getUTCHours() % 2 !== 0);
const minorY = d3.range(24, 109, 3).filter(v => !yTicks.includes(v));

const svg = d3.select("#chart");
svg.append("rect").attr("width", W).attr("height", 1200).attr("fill", "#fff");

// titles
svg.append("text").attr("x", 24).attr("y", 22).attr("font-size", 14).attr("font-weight", "bold").text(titleLines[0]);
svg.append("text").attr("x", 24).attr("y", 38.5).attr("font-size", 14).attr("font-weight", "bold").text(titleLines[1]);

function drawPanel(p, idx, title, tickFmt) {
  const y = d3.scaleLinear().domain([24, 108]).range([p.bottom, p.top]);
  const g = svg.append("g");
  g.append("rect").attr("x", L).attr("y", p.top).attr("width", R - L).attr("height", p.bottom - p.top).attr("fill", "#fff8dc");
  const grid = g.append("g");
  grid.selectAll(".hmin").data(minorY).join("line")
    .attr("x1", L).attr("x2", R).attr("y1", d => y(d)).attr("y2", d => y(d))
    .attr("stroke", "#bdbdb6").attr("stroke-width", 0.8).attr("stroke-dasharray", "3,2");
  grid.selectAll(".vmin").data(minorX).join("line")
    .attr("y1", p.top).attr("y2", p.bottom).attr("x1", d => x(d)).attr("x2", d => x(d))
    .attr("stroke", "#cfc7b3").attr("stroke-width", 0.8).attr("stroke-dasharray", "1.5,2");
  grid.selectAll(".hmaj").data(yTicks).join("line")
    .attr("x1", L).attr("x2", R).attr("y1", d => y(d)).attr("y2", d => y(d))
    .attr("stroke", "#b0b0b0").attr("stroke-width", 1.6);
  grid.selectAll(".vmaj").data(majorX).join("line")
    .attr("y1", p.top).attr("y2", p.bottom).attr("x1", d => x(d)).attr("x2", d => x(d))
    .attr("stroke", "#b0b0b0").attr("stroke-width", 1.6);
  svg.append("clipPath").attr("id", "clip" + idx).append("rect")
    .attr("x", L).attr("y", p.top).attr("width", R - L).attr("height", p.bottom - p.top);
  const data = g.append("g").attr("clip-path", `url(#clip${idx})`);
  const styleAxis = sel => {
    sel.select(".domain").remove();
    sel.selectAll("line").attr("stroke", "#222").attr("stroke-width", 1);
    sel.selectAll("text").attr("font-size", 8.5).attr("fill", "#222").style("font-family", "DejaVu Sans");
  };
  g.append("g").attr("transform", `translate(${L},0)`).call(d3.axisLeft(y).tickValues(yTicks).tickSize(7).tickPadding(4).tickFormat(d3.format("d"))).call(styleAxis);
  g.append("g").attr("transform", `translate(${L},0)`).call(d3.axisLeft(y).tickValues(minorY).tickSize(4).tickFormat("")).call(styleAxis);
  g.append("g").attr("transform", `translate(${R},0)`).call(d3.axisRight(y).tickValues(yTicks).tickSize(7).tickPadding(4).tickFormat(d3.format("d"))).call(styleAxis);
  g.append("g").attr("transform", `translate(${R},0)`).call(d3.axisRight(y).tickValues(minorY).tickSize(4).tickFormat("")).call(styleAxis);
  g.append("g").attr("transform", `translate(0,${p.bottom})`).call(d3.axisBottom(x).tickValues(majorX).tickSize(7).tickPadding(5).tickFormat(d3.utcFormat(tickFmt))).call(styleAxis);
  g.append("g").attr("transform", `translate(0,${p.bottom})`).call(d3.axisBottom(x).tickValues(minorX).tickSize(4).tickFormat("")).call(styleAxis);
  g.append("text").attr("x", L).attr("y", p.top - 10).attr("font-size", 11.6).attr("font-weight", "bold").text(title);
  g.append("text").attr("x", (L + R) / 2).attr("y", p.bottom + 36).attr("text-anchor", "middle").attr("font-size", 11).text("time");
  const mid = (p.top + p.bottom) / 2;
  g.append("text").attr("transform", `translate(22,${mid}) rotate(-90)`).attr("text-anchor", "middle").attr("font-size", 11).text("dB SPL");
  g.append("text").attr("transform", `translate(2386,${mid}) rotate(-90)`).attr("text-anchor", "middle").attr("font-size", 11).text("dB SPL");
  return { g, y, data, frame: () => g.append("rect").attr("x", L).attr("y", p.top).attr("width", R - L).attr("height", p.bottom - p.top).attr("fill", "none").attr("stroke", "#000").attr("stroke-width", 1.3) };
}

// ---------- top panel ----------
const P1 = drawPanel(panels[0], 1, topTitle, "%H:%M");
const plus = "M-2.2,0H2.2M0,-2.2V2.2";
const peakSeries = [
  { pts: regular(peakZ, 3).concat(pairs(peakZOutliers)), color: "#1e90ff" },
  { pts: regular(peakC, 3).concat(pairs(peakCOutliers)), color: "#ff00ff" },
  { pts: regular(peakA, 3).concat(pairs(peakAOutliers)), color: "#2e8b57" }
];
peakSeries.forEach(s => {
  P1.data.append("g").selectAll("path").data(s.pts).join("path")
    .attr("d", plus).attr("transform", d => `translate(${x(d.t)},${P1.y(d.v)})`)
    .attr("stroke", s.color).attr("stroke-width", 1).attr("opacity", 0.7).attr("fill", "none");
});
const line1 = d3.line().x(d => x(d.t)).y(d => P1.y(d.v));
[
  { pts: withDetail(avgZ, avgZDetail), color: "#4682b4" },
  { pts: withDetail(avgC, avgCDetail), color: "#da70d6" },
  { pts: withDetail(avgA, avgADetail), color: "#9acd32" }
].forEach(s => {
  P1.data.append("path").datum(s.pts).attr("d", line1).attr("fill", "none").attr("stroke", s.color).attr("stroke-width", 1.6).attr("stroke-linejoin", "round");
});
P1.frame();

// top legend
const lg1 = svg.append("g");
lg1.append("rect").attr("x", 2155.5).attr("y", 542).attr("width", 182).attr("height", 41.5).attr("rx", 3)
  .attr("fill", "#fff8dc").attr("fill-opacity", 0.85).attr("stroke", "#dcc6a0").attr("stroke-width", 1);
const rows1 = [549.5, 561.5, 573.5];
const pkCols = ["#1e90ff", "#ff00ff", "#2e8b57"], avCols = ["#4682b4", "#da70d6", "#9acd32"];
rows1.forEach((ry, i) => {
  lg1.append("circle").attr("cx", 2169).attr("cy", ry).attr("r", 2.2).attr("fill", pkCols[i]);
  lg1.append("text").attr("x", 2186).attr("y", ry + 3.4).attr("font-size", 9.5).text(topLegendLabels[i]);
  lg1.append("line").attr("x1", 2258).attr("x2", 2280).attr("y1", ry).attr("y2", ry).attr("stroke", avCols[i]).attr("stroke-width", 3);
  lg1.append("text").attr("x", 2286).attr("y", ry + 3.4).attr("font-size", 9.5).text(topLegendLabels[i + 3]);
});

// ---------- bottom panel ----------
const P2 = drawPanel(panels[1], 2, bottomTitle, "%H:%M:%S");
const envPts = envMax.map((v, i) => ({ t: tAt(i * 10), hi: v, lo: envMin[i] }));
const envG = P2.data.append("g").attr("opacity", 0.22);
envG.append("path").datum(envPts)
  .attr("d", d3.area().x(d => x(d.t)).y0(d => P2.y(d.lo)).y1(d => P2.y(d.hi)))
  .attr("fill", "#dc143c");
envG.selectAll("line").data(envSpikes).join("line")
  .attr("x1", d => x(hm(d[0]))).attr("x2", d => x(hm(d[0])))
  .attr("y1", d => P2.y(d[1])).attr("y2", d => P2.y(d[2]))
  .attr("stroke", "#dc143c").attr("stroke-width", 1.6);
const line2 = d3.line().x(d => x(d.t)).y(d => P2.y(d.v));
[
  { vals: avg5A, color: "#ffd700" },
  { vals: avg5C, color: "#ff8c00" },
  { vals: avg5Z, color: "#dc143c" }
].forEach(s => {
  P2.data.append("path").datum(regular(s.vals, 5)).attr("d", line2).attr("fill", "none").attr("stroke", s.color).attr("stroke-width", 1.8).attr("stroke-linejoin", "round");
});
P2.frame();

// bottom legend
const lg2 = svg.append("g");
lg2.append("rect").attr("x", 2276).attr("y", 1103.5).attr("width", 62.5).attr("height", 40.5).attr("rx", 3)
  .attr("fill", "#fff8dc").attr("fill-opacity", 0.85).attr("stroke", "#dcc6a0").attr("stroke-width", 1);
const rows2 = [1111.7, 1123.3, 1135];
const bCols = ["#dc143c", "#ff8c00", "#ffd700"];
rows2.forEach((ry, i) => {
  lg2.append("line").attr("x1", 2278.5).attr("x2", 2301).attr("y1", ry).attr("y2", ry).attr("stroke", bCols[i]).attr("stroke-width", 3);
  lg2.append("text").attr("x", 2307.5).attr("y", ry + 3.4).attr("font-size", 9.5).text(bottomLegendLabels[i]);
});
</script>
</body></html>
